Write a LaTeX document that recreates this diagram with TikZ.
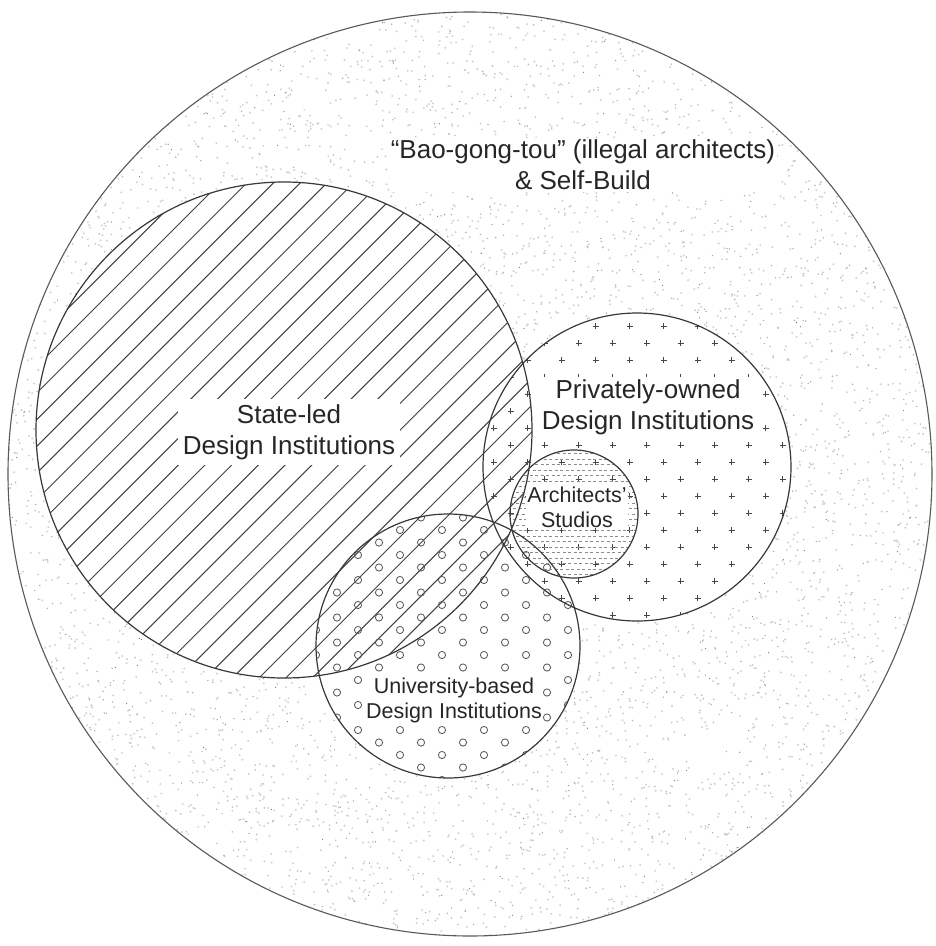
\documentclass[tikz,border=0pt]{standalone}
\usepackage{fontspec}
\setmainfont{Liberation Sans}
\begin{document}
\begin{tikzpicture}[x=1pt,y=-1pt,
  rim/.style={draw=black!78, line width=1.2pt},
  outerrim/.style={draw=black!65, line width=1.1pt},
  lab/.style={font=\fontsize{26}{31}\selectfont, text=black!85, align=center, fill=white, inner sep=3pt},
  slab/.style={font=\fontsize{21.5}{25}\selectfont, text=black!85, align=center, fill=white, inner sep=1pt},
  hatchline/.style={draw=black!75, line width=1.0pt},
  crossmark/.style={draw=black!72, line width=1.0pt},
  ringmark/.style={draw=black!65, line width=0.85pt},
  dashrow/.style={draw=black!45, line width=0.7pt, dash pattern=on 3pt off 2.5pt}]
\useasboundingbox (0,0) rectangle (936,946);
\fill[white] (0,0) rectangle (936,946);
\coordinate (O) at (470,474);
\coordinate (S) at (284,430);
\coordinate (P) at (637,467);
\coordinate (A) at (574,514);
\coordinate (U) at (448,646);
% stipple
\begin{scope}
  \clip (O) circle (462);
  \pgfmathsetseed{4242}
  \foreach \b in {1,...,25} {
    \fill[black!18] \foreach \i in {1,...,200} {({470+462*rand},{474+462*rand}) circle (1.1)};
  }
  \foreach \b in {1,...,15} {
    \fill[black!32] \foreach \i in {1,...,200} {({470+462*rand},{474+462*rand}) circle (0.8)};
  }
  \foreach \b in {1,...,4} {
    \fill[black!55] \foreach \i in {1,...,180} {({470+462*rand},{474+462*rand}) circle (0.6)};
  }
\end{scope}
% white interiors
\fill[white] (S) circle (248) (P) circle (154) (U) circle (132) (A) circle (64);
% state-led hatch
\begin{scope}
  \clip (S) circle (248);
  \foreach \m in {-2,...,25} {
    \draw[hatchline] ({403+26.7*\m-150},150) -- ({403+26.7*\m-720},720);
  }
\end{scope}
% private crosses
\begin{scope}
  \clip (P) circle (154);
  \foreach \j in {-8,...,10} {
    \foreach \k in {-6,...,5} {
      \pgfmathsetmacro\cx{646.7+34*\k+17*mod(\j+20,2)}
      \pgfmathsetmacro\cy{445+17*\j}
      \draw[crossmark] (\cx-3.2,\cy) -- (\cx+3.2,\cy) (\cx,\cy-3.2) -- (\cx,\cy+3.2);
    }
  }
\end{scope}
% university rings
\begin{scope}
  \clip (U) circle (132);
  \foreach \j in {-18,...,4} {
    \foreach \k in {-3,...,5} {
      \pgfmathsetmacro\cx{400+42*\k+21*mod(\j+40,2)}
      \pgfmathsetmacro\cy{730+12.5*\j}
      \draw[ringmark] (\cx,\cy) circle (3.6);
    }
  }
\end{scope}
% architects dashes
\begin{scope}
  \clip (A) circle (64);
  \foreach \j in {-12,...,12} {
    \pgfmathsetmacro\ry{514+5.5*\j}
    \pgfmathsetmacro\ph{2.75*mod(\j+20,2)}
    \draw[dashrow, dash phase=\ph pt] (505,\ry) -- (645,\ry);
  }
\end{scope}
% labels
\node[lab, inner sep=2pt] (bao) at (583,165) {“Bao-gong-tou” (illegal architects)\\\& Self-Build};
\node[lab, inner sep=5pt] (statelab) at (289,432) {State-led\\Design Institutions};
\node[lab, inner sep=2pt] (privlab) at (648,407) {Privately-owned\\Design Institutions};
\node[slab] (archlab) at (577,507) {Architects’\\Studios};
\node[slab] (unilab) at (454,700) {University-based\\Design Institutions};
% outlines
\draw[outerrim] (O) circle (462);
\draw[rim] (S) circle (248);
\draw[rim] (P) circle (154);
\draw[rim] (U) circle (132);
\draw[rim] (A) circle (64);
\end{tikzpicture}
\end{document}
